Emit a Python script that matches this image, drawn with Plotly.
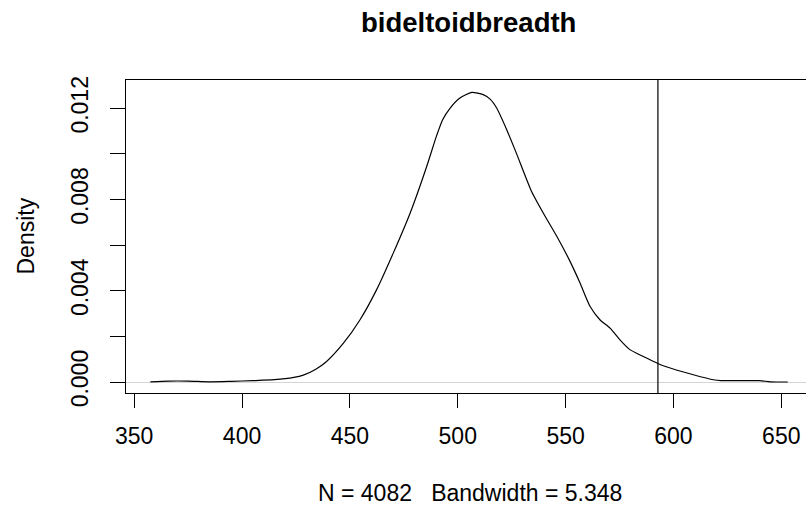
import plotly.graph_objects as go

# ---- data ----
x_vals = [357.5, 366, 375, 385, 395, 405, 415, 424, 428.4, 434, 439.2, 447, 454.7,
          462.4, 470.1, 477.9, 485.6, 490.2, 493, 496.4, 501, 506.5, 511.8, 515,
          518.1, 522.7, 527.3, 534, 539.7, 545.9, 552, 556.7, 561.3, 565.9, 570.6,
          575.2, 579.8, 586, 593, 599.9, 609.2, 618.5, 622, 630, 640, 645, 653]
density = [0.00001, 0.00004, 0.00004, 0.00001, 0.00003, 0.00006, 0.0001, 0.0002,
           0.0003, 0.00055, 0.0009, 0.0017, 0.00273, 0.00405, 0.00565, 0.0074,
           0.00945, 0.0108, 0.0115, 0.0120, 0.01245, 0.0127, 0.0126, 0.0124,
           0.0120, 0.01106, 0.0100, 0.0084, 0.0074, 0.00639, 0.0053, 0.00434,
           0.00332, 0.00273, 0.00236, 0.00185, 0.00142, 0.00112, 0.0008, 0.00057,
           0.00032, 0.0001, 0.00006, 0.00006, 0.00006, 0.00001, 0.0]
vline_x = 592.8

x_ticks = [350, 400, 450, 500, 550, 600, 650]
y_ticks = [0.0, 0.002, 0.004, 0.006, 0.008, 0.010, 0.012]
y_ticktext = ["0.000", "", "0.004", "", "0.008", "", "0.012"]

title_text = "bideltoidbreadth"
xlab_text = "N = 4082   Bandwidth = 5.348"
ylab_text = "Density"

FONT = "Liberation Sans, Arial, Helvetica, sans-serif"

fig = go.Figure()
fig.add_trace(go.Scatter(x=x_vals, y=density, mode="lines",
                         line=dict(color="black", width=1.2, shape="spline", smoothing=0.6),
                         showlegend=False, hoverinfo="skip"))

fig.add_shape(type="line", xref="x", yref="paper", x0=vline_x, x1=vline_x, y0=0, y1=1,
              line=dict(color="black", width=1.2))

fig.update_layout(
    width=806, height=508,
    margin=dict(l=126, r=0, t=80, b=115, pad=0),
    paper_bgcolor="white", plot_bgcolor="white",
    font=dict(family=FONT, color="black", size=23),
    showlegend=False,
)
fig.update_xaxes(range=[346.2, 661.45], tickvals=x_ticks, ticks="outside", ticklen=14,
                 tickwidth=1, tickcolor="black", showline=True, linecolor="black",
                 linewidth=1.2, mirror=True, showgrid=False, zeroline=False,
                 tickfont=dict(size=23), ticklabelstandoff=8)
fig.update_yaxes(range=[-0.000482, 0.01324], tickvals=y_ticks, ticktext=y_ticktext,
                 ticks="outside", ticklen=15, tickwidth=1, tickcolor="black",
                 showline=True, linecolor="black", linewidth=1.2, mirror=False,
                 showgrid=False, zeroline=True, zerolinecolor="#d4d4d4", zerolinewidth=1,
                 tickangle=-90, tickfont=dict(size=23), ticklabelstandoff=13)

fig.add_annotation(text="<b>" + title_text + "</b>", xref="paper", yref="paper",
                   x=(468.5 - 126) / 680, y=(393 - 22) / 313, xanchor="center",
                   yanchor="middle", showarrow=False, font=dict(size=27.5, family=FONT))
fig.add_annotation(text=xlab_text, xref="paper", yref="paper",
                   x=(469.8 - 126) / 680, y=(393 - 493) / 313, xanchor="center",
                   yanchor="middle", showarrow=False, font=dict(size=23, family=FONT))
fig.add_annotation(text=ylab_text, xref="paper", yref="paper",
                   x=(25 - 126) / 680, y=0.5, xanchor="center", yanchor="middle",
                   textangle=-90, showarrow=False, font=dict(size=23, family=FONT))

fig.write_html("out.html")
